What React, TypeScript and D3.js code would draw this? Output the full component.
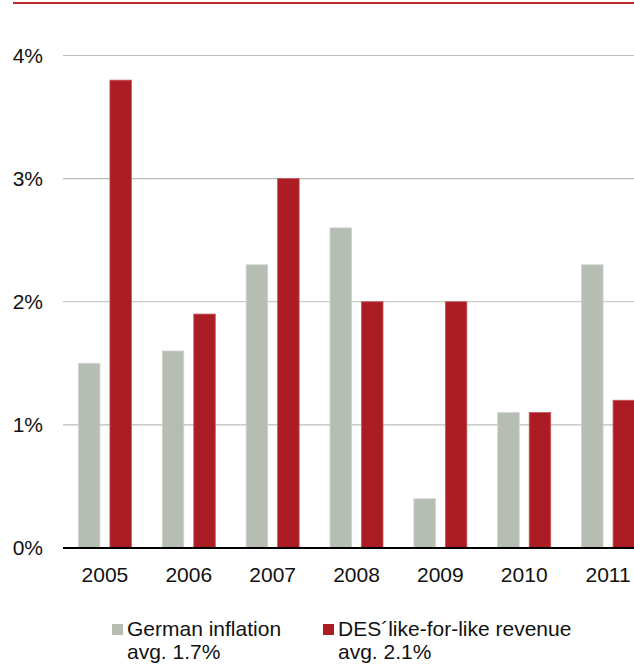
import React from "react";
import * as d3 from "d3";

// --- Data ---
const years = ["2005", "2006", "2007", "2008", "2009", "2010", "2011"];
const germanInflation = [1.5, 1.6, 2.3, 2.6, 0.4, 1.1, 2.3];
const desRevenue = [3.8, 1.9, 3.0, 2.0, 2.0, 1.1, 1.2];
const yTicks = [0, 1, 2, 3, 4];
const seriesKeys = ["inflation", "revenue"];
const legendItems = [
  { key: "inflation", line1: "German inflation", line2: "avg. 1.7%" },
  { key: "revenue", line1: "DES´like-for-like revenue", line2: "avg. 2.1%" },
];

const W = 634;
const H = 665;
const FONT = "'Liberation Sans', Arial, sans-serif";

const colors: Record<string, { fill: string; stroke: string }> = {
  inflation: { fill: "#b6beb4", stroke: "#cdd3cb" },
  revenue: { fill: "#ab1c24", stroke: "#c4585d" },
};

export default function App() {
  // plot runs past the right edge of the window, the way the original is cropped
  const x0 = d3
    .scaleBand<string>()
    .domain(years)
    .range([63, 650])
    .paddingInner(0.368)
    .paddingOuter(0.184);

  const x1 = d3
    .scaleBand<string>()
    .domain(seriesKeys)
    .range([0, x0.bandwidth()])
    .paddingInner(0.317);

  const y = d3.scaleLinear().domain([0, 4]).range([548, 55.5]);

  const rows = years.map((yr, i) => ({
    year: yr,
    values: [
      { key: "inflation", value: germanInflation[i] },
      { key: "revenue", value: desRevenue[i] },
    ],
  }));

  const legendX = d3.scaleOrdinal<string, number>().domain(seriesKeys).range([112, 323]);

  return (
    <svg
      width={W}
      height={H}
      style={{ position: "absolute", left: 0, top: 0, background: "#fff" }}
      fontFamily={FONT}
    >
      {/* top rule */}
      <line x1={13} x2={W} y1={3} y2={3} stroke="#c0272d" strokeWidth={2} />

      {/* gridlines + y labels */}
      {yTicks.map((t) => (
        <g key={t}>
          {t > 0 && (
            <line x1={63} x2={650} y1={y(t)} y2={y(t)} stroke="#b9beb6" strokeWidth={1.2} />
          )}
          <text
            x={43}
            y={y(t)}
            dy="0.35em"
            textAnchor="end"
            fontSize={21}
            fill="#111"
          >
            {t}%
          </text>
        </g>
      ))}

      {/* bars */}
      {rows.map((r) => (
        <g key={r.year} transform={`translate(${x0(r.year)},0)`}>
          {r.values.map((v) => (
            <rect
              key={v.key}
              x={x1(v.key)!}
              y={y(v.value)}
              width={x1.bandwidth()}
              height={y(0) - y(v.value)}
              fill={colors[v.key].fill}
              stroke={colors[v.key].stroke}
              strokeWidth={0.8}
            />
          ))}
        </g>
      ))}

      {/* zero axis */}
      <line x1={63} x2={650} y1={y(0)} y2={y(0)} stroke="#000" strokeWidth={2} />

      {/* x labels */}
      {years.map((yr) => (
        <text
          key={yr}
          x={x0(yr)! + x0.bandwidth() / 2}
          y={582}
          textAnchor="middle"
          fontSize={21}
          fill="#111"
        >
          {yr}
        </text>
      ))}

      {/* legend */}
      {legendItems.map((it) => {
        const lx = legendX(it.key);
        return (
          <g key={it.key}>
            <rect x={lx} y={624} width={11} height={11} fill={colors[it.key].fill} />
            <text x={lx + 15} y={636} fontSize={21} fill="#111">
              {it.line1}
            </text>
            <text x={lx + 15} y={659} fontSize={21} fill="#111">
              {it.line2}
            </text>
          </g>
        );
      })}
    </svg>
  );
}
